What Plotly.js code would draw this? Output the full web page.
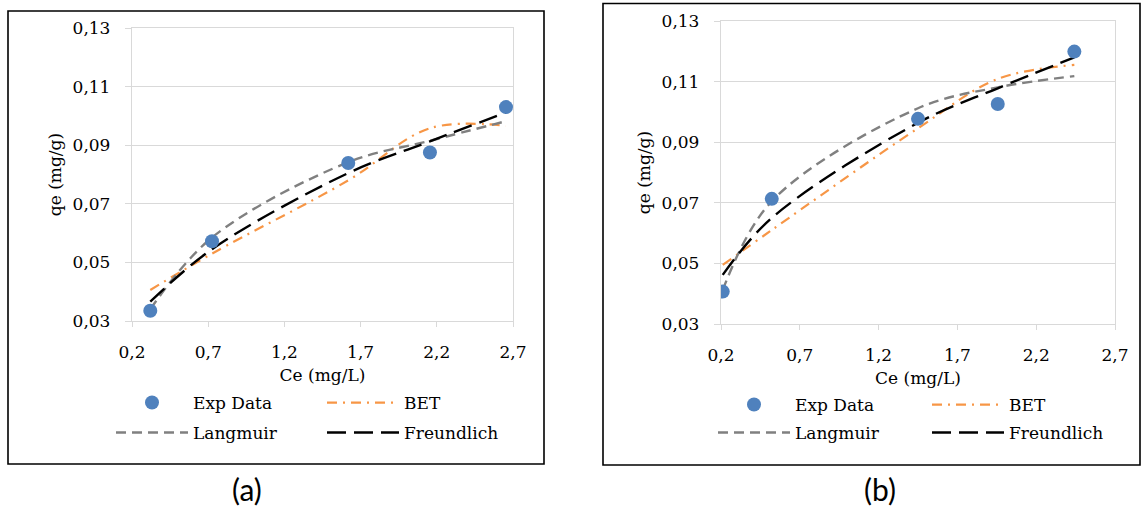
<!DOCTYPE html>
<html>
<head>
<meta charset="utf-8">
<script src="https://cdn.plot.ly/plotly-3.0.1.min.js"></script>
<style>
html,body{margin:0;padding:0;background:#fff;}
#chart{width:1142px;height:508px;}
</style>
</head>
<body>
<div id="chart"></div>
<script>
// ---------- Data ----------
// Panel (a)
const ceA         = [0.32, 0.725, 1.619, 2.155, 2.654];
const expA        = [0.0335, 0.0572, 0.0839, 0.0875, 0.1030];
const betA        = [0.0406, 0.0530, 0.0780, 0.0958, 0.0966];
const langmuirA   = [0.0340, 0.0585, 0.0842, 0.0915, 0.0982];
const freundlichA = [0.0366, 0.0545, 0.0805, 0.0913, 0.1012];
// Panel (b)
const ceB         = [0.211, 0.522, 1.450, 1.956, 2.442];
const expB        = [0.0407, 0.0713, 0.0977, 0.1026, 0.1199];
const betB        = [0.0495, 0.0610, 0.0946, 0.1109, 0.1155];
const langmuirB   = [0.0412, 0.0705, 0.1012, 0.1081, 0.1118];
const freundlichB = [0.0462, 0.0650, 0.0964, 0.1078, 0.1180];
// Labels
const seriesNames = ['Exp Data', 'BET', 'Langmuir', 'Freundlich'];
const xTitle = 'Ce (mg/L)';
const yTitle = 'qe (mg/g)';
const panelLabels = ['(a)', '(b)'];

// ---------- Styling ----------
const W = 1142, H = 508;
const px = x => x / W;
const py = y => 1 - y / H;
const SERIF = 'DejaVu Serif, Cambria, serif';
const txtFont = {family: SERIF, size: 17, color: '#000'};
const GRID = '#d9d9d9';

const styles = {
  exp:  {mode: 'markers', marker: {color: '#4f81bd', size: 14}},
  bet:  {mode: 'lines', line: {color: '#f79646', width: 2.2, dash: '10px,6px,2px,6px', shape: 'spline', smoothing: 1}},
  lang: {mode: 'lines', line: {color: '#808080', width: 2.4, dash: '10px,6px', shape: 'spline', smoothing: 1}},
  freu: {mode: 'lines', line: {color: '#000000', width: 2.4, dash: '19px,8px', shape: 'spline', smoothing: 1}}
};

function mk(x, y, name, style, xa, ya, leg) {
  return Object.assign({x: x, y: y, name: name, xaxis: xa, yaxis: ya, legend: leg,
    hoverinfo: 'x+y'}, JSON.parse(JSON.stringify(style)));
}

const traces = [
  mk(ceA, expA, seriesNames[0], styles.exp, 'x', 'y', 'legend'),
  mk(ceA, betA, seriesNames[1], styles.bet, 'x', 'y', 'legend2'),
  mk(ceA, langmuirA, seriesNames[2], styles.lang, 'x', 'y', 'legend3'),
  mk(ceA, freundlichA, seriesNames[3], styles.freu, 'x', 'y', 'legend4'),
  mk(ceB, expB, seriesNames[0], styles.exp, 'x2', 'y2', 'legend5'),
  mk(ceB, betB, seriesNames[1], styles.bet, 'x2', 'y2', 'legend6'),
  mk(ceB, langmuirB, seriesNames[2], styles.lang, 'x2', 'y2', 'legend7'),
  mk(ceB, freundlichB, seriesNames[3], styles.freu, 'x2', 'y2', 'legend8')
];
// draw lines below the markers: put markers last
const ordered = [traces[1], traces[2], traces[3], traces[0], traces[5], traces[6], traces[7], traces[4]];

function xAxis(domain, anchor) {
  return {domain: domain, anchor: anchor, range: [0.2, 2.7], tick0: 0.2, dtick: 0.5,
    tickformat: '.1f', ticks: 'outside', ticklen: 5, tickwidth: 1.3, tickcolor: GRID,
    showline: true, linecolor: GRID, linewidth: 1.3, mirror: true, showgrid: false,
    zeroline: false, tickfont: txtFont, ticklabelstandoff: 10,
    title: {text: xTitle, font: txtFont, standoff: 8}, fixedrange: true};
}
function yAxis(domain, anchor) {
  return {domain: domain, anchor: anchor, range: [0.03, 0.13], tick0: 0.03, dtick: 0.02,
    tickformat: '.2f', ticks: 'outside', ticklen: 6, tickwidth: 1.3, tickcolor: GRID,
    showline: true, linecolor: GRID, linewidth: 1.3, mirror: true, showgrid: true,
    gridcolor: GRID, gridwidth: 1.3, zeroline: false, tickfont: txtFont, ticklabelstandoff: 11,
    title: {text: yTitle, font: txtFont, standoff: 6}, fixedrange: true};
}
function leg(xPix, yPix) {
  return {x: px(xPix), y: py(yPix), xanchor: 'left', yanchor: 'middle', xref: 'paper', yref: 'paper',
    bgcolor: 'rgba(0,0,0,0)', borderwidth: 0, font: txtFont, itemwidth: 72,
    itemclick: false, itemdoubleclick: false, tracegroupgap: 0};
}

const layout = {
  width: W, height: H, autosize: false,
  margin: {l: 0, r: 0, t: 0, b: 0, pad: 0},
  paper_bgcolor: '#fff', plot_bgcolor: '#fff',
  separators: ', ',
  font: txtFont,
  showlegend: true,
  xaxis: xAxis([px(132), px(513)], 'y'),
  yaxis: yAxis([py(321), py(28)], 'x'),
  xaxis2: xAxis([px(721), px(1115)], 'y2'),
  yaxis2: yAxis([py(324), py(21)], 'x2'),
  legend:  leg(111, 403),
  legend2: leg(322, 403),
  legend3: leg(111, 433),
  legend4: leg(322, 433),
  legend5: leg(713, 405),
  legend6: leg(927, 405),
  legend7: leg(713, 433),
  legend8: leg(927, 433),
  shapes: [
    {type: 'rect', xref: 'paper', yref: 'paper', x0: px(8), x1: px(544), y0: py(464), y1: py(11),
      line: {color: '#000', width: 1.6}, fillcolor: 'rgba(0,0,0,0)', layer: 'below'},
    {type: 'rect', xref: 'paper', yref: 'paper', x0: px(603), x1: px(1140), y0: py(465), y1: py(3.5),
      line: {color: '#000', width: 1.6}, fillcolor: 'rgba(0,0,0,0)', layer: 'below'}
  ],
  annotations: [
    {text: panelLabels[0], xref: 'paper', yref: 'paper', x: px(247), y: py(489), xanchor: 'center', yanchor: 'middle',
      showarrow: false, font: {family: 'Lato, Carlito, sans-serif', size: 30, color: '#000'}},
    {text: panelLabels[1], xref: 'paper', yref: 'paper', x: px(880), y: py(489), xanchor: 'center', yanchor: 'middle',
      showarrow: false, font: {family: 'Lato, Carlito, sans-serif', size: 30, color: '#000'}}
  ]
};

Plotly.newPlot('chart', ordered, layout, {displayModeBar: false, staticPlot: false, responsive: false});
</script>
</body>
</html>
